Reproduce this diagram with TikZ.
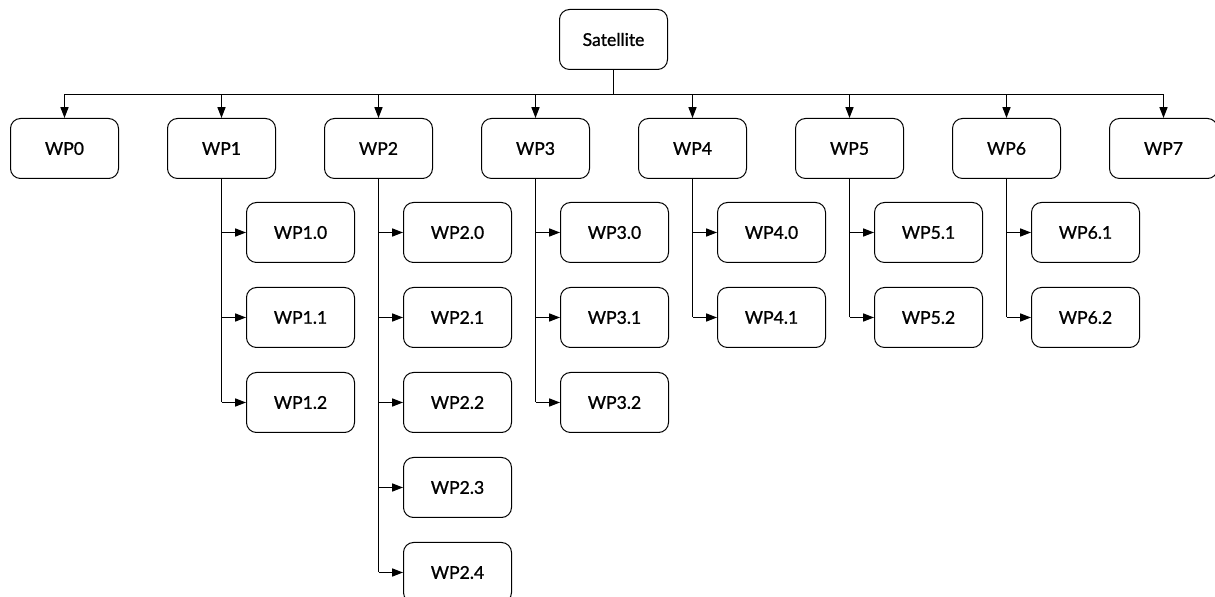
\documentclass[tikz,border=0pt]{standalone}
\usepackage{fontspec}
\newfontfamily\boxfont{Lato}[FakeBold=1]
\usetikzlibrary{arrows.meta}
\begin{document}
\begin{tikzpicture}[x=0.5pt,y=-0.5pt,
  box/.style={draw, rounded corners=5pt, minimum width=54pt, minimum height=30pt,
    inner sep=0pt, line width=0.5pt, font=\boxfont\fontsize{8.8}{10}\selectfont},
  arr/.style={-{Triangle[length=5.4pt,width=4pt]}, line width=0.6pt},
  link/.style={line width=0.6pt}]
\useasboundingbox (0,0) rectangle (1215,597);

% root
\node[box] (sat) at (613.5,39.5) {Satellite};

% work packages
\foreach \i in {0,...,7}
  \node[box] (wp\i) at ({64.5+157*\i},148.5) {WP\i};

% distribution bar below the root
\coordinate (bar) at (613.5,94.5);
\coordinate (barL) at (64.5,94.5);
\coordinate (barR) at (1163.5,94.5);
\draw[link] (sat.south) -- (bar);
\draw[link] (barL) -- (barR);
\foreach \i in {0,...,7}
  \draw[arr] (wp\i.north |- bar) -- (wp\i.north);

% sub packages
\node[box] (c10) at (300.5,232.5) {WP1.0};
\node[box] (c11) at (300.5,317.5) {WP1.1};
\node[box] (c12) at (300.5,402.5) {WP1.2};

\node[box] (c20) at (457.5,232.5) {WP2.0};
\node[box] (c21) at (457.5,317.5) {WP2.1};
\node[box] (c22) at (457.5,402.5) {WP2.2};
\node[box] (c23) at (457.5,487.5) {WP2.3};
\node[box] (c24) at (457.5,572.5) {WP2.4};

\node[box] (c30) at (614.5,232.5) {WP3.0};
\node[box] (c31) at (614.5,317.5) {WP3.1};
\node[box] (c32) at (614.5,402.5) {WP3.2};

\node[box] (c40) at (771.5,232.5) {WP4.0};
\node[box] (c41) at (771.5,317.5) {WP4.1};

\node[box] (c51) at (928.5,232.5) {WP5.1};
\node[box] (c52) at (928.5,317.5) {WP5.2};

\node[box] (c61) at (1085.5,232.5) {WP6.1};
\node[box] (c62) at (1085.5,317.5) {WP6.2};

% work packages to sub packages: one trunk, one arrow per branch
\draw[link] (wp1.south) -- (wp1.south |- c12.west);
\foreach \c in {10,11,12} \draw[arr] (wp1.south |- c\c.west) -- (c\c.west);
\draw[link] (wp2.south) -- (wp2.south |- c24.west);
\foreach \c in {20,21,22,23,24} \draw[arr] (wp2.south |- c\c.west) -- (c\c.west);
\draw[link] (wp3.south) -- (wp3.south |- c32.west);
\foreach \c in {30,31,32} \draw[arr] (wp3.south |- c\c.west) -- (c\c.west);
\draw[link] (wp4.south) -- (wp4.south |- c41.west);
\foreach \c in {40,41} \draw[arr] (wp4.south |- c\c.west) -- (c\c.west);
\draw[link] (wp5.south) -- (wp5.south |- c52.west);
\foreach \c in {51,52} \draw[arr] (wp5.south |- c\c.west) -- (c\c.west);
\draw[link] (wp6.south) -- (wp6.south |- c62.west);
\foreach \c in {61,62} \draw[arr] (wp6.south |- c\c.west) -- (c\c.west);
\end{tikzpicture}
\end{document}
